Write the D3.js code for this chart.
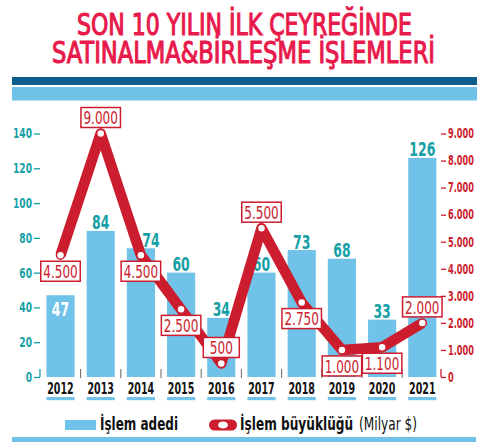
<!DOCTYPE html>
<html><head><meta charset="utf-8">
<script src="https://cdn.jsdelivr.net/npm/d3@7"></script>
<style>
body{margin:0;background:#fff;}
svg{display:block;}
text{font-family:"Liberation Sans Narrow","DejaVu Sans Condensed","DejaVu Sans",sans-serif;font-stretch:condensed;white-space:pre;}
</style></head>
<body>
<svg id="c" width="494" height="448"></svg>
<script>
const years = ["2012","2013","2014","2015","2016","2017","2018","2019","2020","2021"];
const dealCounts = [47,84,74,60,34,60,73,68,33,126];
const dealSizes = [4500,9000,4500,2500,500,5500,2750,1000,1100,2000];
const sizeLabelSide = ["below","above","below","below","above","above","below","below","below","above"];
const leftTicks = [0,20,40,60,80,100,120,140];
const rightTicks = [0,1000,2000,3000,4000,5000,6000,7000,8000,9000];
const titleLines = ["SON 10 YILIN İLK ÇEYREĞİNDE","SATINALMA&BİRLEŞME İŞLEMLERİ"];
const legendBar = "İşlem adedi";
const legendLine = "İşlem büyüklüğü";
const legendUnit = "(Milyar $)";

const RED = "#cc1d2e", TEAL = "#169fa6", BLUE = "#71c2e8", DARK = "#0b5e8b", TITLE = "#e8194b";
const svg = d3.select("#c");
const loc = d3.formatLocale({decimal:",", thousands:".", grouping:[3], currency:["","$"]});
const fmt = loc.format(",");

// squeeze a group of texts by the factor that brings a reference text to its target width
function squeeze(sel, refNode, target){
  const f = target / refNode.getComputedTextLength();
  sel.each(function(){
    const w = this.getComputedTextLength();
    d3.select(this).attr("textLength", w*f).attr("lengthAdjust","spacingAndGlyphs");
  });
}

// title
const tl = [{x0:77,x1:412,y:35},{x0:52,x1:435,y:63}];
titleLines.forEach((t,i)=>{
  svg.append("text").attr("x",tl[i].x0).attr("y",tl[i].y).text(t)
    .attr("font-size",29.5).attr("fill",TITLE).attr("stroke",TITLE).attr("stroke-width",1.1)
    .attr("textLength",tl[i].x1-tl[i].x0).attr("lengthAdjust","spacingAndGlyphs");
});
svg.append("rect").attr("x",12).attr("y",77).attr("width",465).attr("height",8).attr("fill",DARK);
svg.append("rect").attr("x",12).attr("y",87).attr("width",465).attr("height",13.5).attr("fill",BLUE);

// scales
const x = d3.scaleBand().domain(years).range([40.4,442.4]).paddingInner(0.3).paddingOuter(0.15);
const yL = d3.scaleLinear().domain([0,140]).range([377,133.5]);
const yR = d3.scaleLinear().domain([0,9000]).range([377,133.5]);
const bw = x.bandwidth();

// bars
svg.append("g").selectAll("rect").data(years).join("rect")
  .attr("x",d=>x(d)).attr("width",bw)
  .attr("y",(d,i)=>yL(dealCounts[i])).attr("height",(d,i)=>yL(0)-yL(dealCounts[i]))
  .attr("fill",BLUE);

// separators
for(let i=1;i<years.length;i++){
  const sx = x(years[i]) - (x.step()-bw)/2;
  svg.append("line").attr("x1",sx).attr("x2",sx).attr("y1",369).attr("y2",378)
    .attr("stroke","#666").attr("stroke-width",1);
}

// left axis
const axL = svg.append("g").attr("transform","translate(40,0)")
  .call(d3.axisLeft(yL).tickValues(leftTicks).tickSize(6).tickPadding(2));
axL.select(".domain").remove();
axL.selectAll("line").attr("stroke",TEAL).attr("stroke-width",1.3);
const axLt = axL.selectAll("text").attr("fill",TEAL).attr("font-size",14).attr("font-weight","bold")
  .attr("font-family",null);
squeeze(axLt, axLt.filter(d=>d===140).node(), 19);
svg.append("line").attr("x1",40).attr("x2",40).attr("y1",yL(0)-8).attr("y2",yL(0))
  .attr("stroke",TEAL).attr("stroke-width",1.3);

// right axis
const axR = svg.append("g").attr("transform","translate(441,0)")
  .call(d3.axisRight(yR).tickValues(rightTicks).tickSize(5).tickPadding(2).tickFormat(d=>fmt(d)));
axR.select(".domain").remove();
axR.selectAll("line").attr("stroke",RED).attr("stroke-width",1.3);
const axRt = axR.selectAll("text").attr("fill",RED).attr("font-size",13.5).attr("font-weight","bold")
  .attr("font-family",null);
squeeze(axRt, axRt.filter(d=>d===9000).node(), 26);
svg.append("line").attr("x1",441).attr("x2",441).attr("y1",yR(0)-8).attr("y2",yR(0))
  .attr("stroke",RED).attr("stroke-width",1.3);

// year labels + underline
const yearG = svg.append("g");
years.forEach(y=>{
  yearG.append("text").attr("x",x(y)+bw/2).attr("y",393.5).attr("text-anchor","middle")
    .attr("font-size",16.5).attr("font-weight","bold").attr("fill","#111").text(y);
  svg.append("rect").attr("x",x(y)).attr("width",bw).attr("y",397).attr("height",3.2).attr("fill",BLUE);
});
const yearT = yearG.selectAll("text");
squeeze(yearT, yearT.node(), 26.5);

// bar value labels
const cntG = svg.append("g");
years.forEach((y,i)=>{
  const inside = i===0;
  const dx = i===2 ? 10 : 0;
  cntG.append("text").attr("x",x(y)+bw/2+dx)
    .attr("y", inside ? yL(dealCounts[i])+21 : yL(dealCounts[i])-1.5)
    .attr("text-anchor","middle").attr("font-size",20).attr("font-weight","bold")
    .attr("fill", inside ? "#fff" : TEAL).text(dealCounts[i]);
});
const cntT = cntG.selectAll("text");
squeeze(cntT, cntT.filter(function(){return this.textContent==="126";}).node(), 26);

// line
const pts = years.map((y,i)=>[x(y)+bw/2, yR(dealSizes[i])]);
svg.append("path").attr("d",d3.line()(pts)).attr("fill","none").attr("stroke",RED)
  .attr("stroke-width",10.5).attr("stroke-linejoin","round").attr("stroke-linecap","butt");
svg.append("g").selectAll("circle").data(pts).join("circle")
  .attr("cx",d=>d[0]).attr("cy",d=>d[1]).attr("r",4).attr("fill","#fff")
  .attr("stroke",RED).attr("stroke-width",1.5);

// value boxes
const boxG = svg.append("g");
const boxTexts = [];
years.forEach((y,i)=>{
  const g = boxG.append("g");
  const t = g.append("text").attr("text-anchor","middle").attr("font-size",18.5)
    .attr("fill",RED).text(fmt(dealSizes[i]));
  boxTexts.push(t.node());
});
const boxT = boxG.selectAll("text");
squeeze(boxT, boxTexts[1], 34.5);
years.forEach((y,i)=>{
  const t = d3.select(boxTexts[i]);
  const tw = +t.attr("textLength");
  const w = Math.max(tw+5, 36), h = 20;
  const cx = pts[i][0], py = pts[i][1];
  const top = sizeLabelSide[i]==="above" ? py-6-h : py+6;
  d3.select(boxTexts[i].parentNode).insert("rect","text").attr("x",cx-w/2).attr("y",top)
    .attr("width",w).attr("height",h)
    .attr("fill","#fff").attr("stroke",RED).attr("stroke-width",1.5);
  t.attr("x",cx).attr("y",top+h-3.3);
});

// legend
svg.append("rect").attr("x",65).attr("y",420).attr("width",31).attr("height",10).attr("fill",BLUE);
const lb = svg.append("text").attr("x",100).attr("y",430).attr("font-size",18).attr("font-weight","bold")
  .attr("fill","#111").text(legendBar);
lb.attr("textLength",78).attr("lengthAdjust","spacingAndGlyphs");
svg.append("rect").attr("x",209).attr("y",419.5).attr("width",28).attr("height",11).attr("rx",5.5)
  .attr("fill",RED);
svg.append("ellipse").attr("cx",223).attr("cy",425).attr("rx",5).attr("ry",3.5).attr("fill","#fff");
const lt1 = svg.append("text").attr("x",240).attr("y",430).attr("font-size",18).attr("fill","#111")
  .attr("font-weight","bold").text(legendLine);
const lt2 = svg.append("text").attr("x",240).attr("y",430).attr("font-size",18).attr("fill","#111")
  .attr("font-weight","normal").text(legendUnit);
{
  const w1 = lt1.node().getComputedTextLength(), w2 = lt2.node().getComputedTextLength();
  const gap = 6;
  const f = (177-gap)/(w1+w2);
  lt1.attr("textLength",w1*f).attr("lengthAdjust","spacingAndGlyphs");
  lt2.attr("x",240+w1*f+gap).attr("textLength",w2*f).attr("lengthAdjust","spacingAndGlyphs");
}
svg.append("rect").attr("x",12).attr("y",437).attr("width",464).attr("height",5).attr("fill",BLUE);
</script>
</body></html>
